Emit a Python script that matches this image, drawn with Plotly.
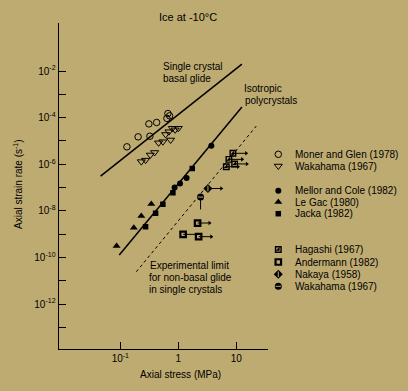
import plotly.graph_objects as go

BG = "#BEAB71"
INK = "black"
FONT = "Arial, 'Liberation Sans', sans-serif"
W, H = 408, 391

# ---------------- data ----------------
# Moner and Glen (1978) - open circles
moner_x = [0.130, 0.203, 0.324, 0.311, 0.423, 0.662, 0.708, 0.636]
moner_y = [5.6e-6, 1.5e-5, 1.6e-5, 5.4e-5, 6.2e-5, 1.5e-4, 1.2e-4, 9.3e-5]
# Wakahama (1967) - open down triangles
wak_x = [0.230, 0.273, 0.329, 0.390, 0.457, 0.542, 0.736, 0.604, 0.689, 0.789, 1.0, 0.88]
wak_y = [1.3e-6, 1.5e-6, 2.5e-6, 3.2e-6, 8.3e-6, 9.3e-6, 1.1e-5, 1.9e-5, 2.5e-5, 3.5e-5, 3.5e-5, 3.0e-5]
# Mellor and Cole (1982) - filled circles
mellor_x = [0.863, 1.07, 1.39, 3.71]
mellor_y = [1.0e-7, 1.5e-7, 2.6e-7, 6.2e-6]
# Le Gac (1980) - filled triangles
legac_x = [0.0863, 0.171, 0.230, 0.342]
legac_y = [3.1e-10, 1.86e-9, 6.0e-9, 1.95e-8]
# Jacka (1982) - filled squares
jacka_x = [0.273, 0.406, 0.542, 0.807, 1.74]
jacka_y = [2.1e-9, 7.8e-9, 1.9e-8, 6.0e-8, 6.6e-7]
# Hagashi (1967) - with arrows to higher stress
hag_x = [8.74, 7.45, 9.35, 6.72]
hag_y = [2.95e-6, 1.62e-6, 1.03e-6, 7.8e-7]
hag_xend = [14.8, 12.6, 15.2, 10.7]
# Andermann (1982)
and_x = [2.15, 1.21, 2.24]
and_y = [3.0e-9, 9.8e-10, 7.8e-10]
and_xend = [3.46, 1.99, 3.71]
and_head = [True, False, True]
# Nakaya (1958)
nak_x = [3.24]
nak_y = [9.1e-8]
nak_xend = [5.51]
# Wakahama (1967) - half filled circle, with downward bar
wak2_x = [2.42]
wak2_y = [3.9e-8]
wak2_yend = [1.15e-8]

# Reference lines (end points)
basal_x = [0.0457, 12.5]
basal_y = [3.12e-7, 2.0e-2]
iso_x = [0.096, 12.5]
iso_y = [1.26e-10, 2.85e-4]
limit_x = [0.189, 22.1]
limit_y = [2.43e-11, 4.37e-5]

x_tickvals = [0.1, 1, 10]
x_ticktext = ["10<sup>-1</sup>", "1", "10"]
y_major_exps = [2, 4, 6, 8, 10, 12]
y_minor_exps = [3, 5, 7, 9, 11, 13]
y_tickvals = [10.0 ** (-k) for k in y_major_exps]
y_ticktext = ["10<sup>-%d</sup>" % k for k in y_major_exps]
y_minorvals = [10.0 ** (-k) for k in y_minor_exps]

legend_rows = [
    ("moner", "Moner and Glen (1978)", 154.3),
    ("wak", "Wakahama (1967)", 166.0),
    ("mellor", "Mellor and Cole (1982)", 190.7),
    ("legac", "Le Gac (1980)", 202.0),
    ("jacka", "Jacka (1982)", 213.7),
    ("hagashi", "Hagashi (1967)", 249.5),
    ("andermann", "Andermann (1982)", 262.0),
    ("nakaya", "Nakaya (1958)", 274.3),
    ("wak2", "Wakahama (1967)", 286.3),
]

# ---------------- styles ----------------
styles = {
    "moner": [dict(symbol="circle-open", size=6.5, color=INK, line=dict(color=INK, width=1))],
    "wak": [dict(symbol="triangle-down-open", size=7, color=INK, line=dict(color=INK, width=1))],
    "mellor": [dict(symbol="circle", size=6, color=INK)],
    "legac": [dict(symbol="triangle-up", size=7, color=INK)],
    "jacka": [dict(symbol="square", size=5.5, color=INK)],
    "hagashi": [dict(symbol="square-open", size=5.5, color=INK, line=dict(color=INK, width=1.4)),
                dict(symbol="triangle-se", size=4.5, color=INK)],
    "andermann": [dict(symbol="square-open", size=5.5, color=INK, line=dict(color=INK, width=2.2))],
    "nakaya": [dict(symbol="diamond", size=7, color=INK),
               dict(symbol="line-ns", size=4, color=BG, line=dict(color=BG, width=1))],
    "wak2": [dict(symbol="circle", size=7, color=INK),
             dict(symbol="line-ew", size=4, color=BG, line=dict(color=BG, width=1))],
}

fig = go.Figure()


def add_marks(x, y, kind, xa="x", ya="y"):
    for m in styles[kind]:
        fig.add_trace(go.Scatter(x=x, y=y, mode="markers", marker=m, xaxis=xa, yaxis=ya,
                                 showlegend=False, hoverinfo="skip"))


def add_line(x, y, dash="solid", width=1.5):
    fig.add_trace(go.Scatter(x=x, y=y, mode="lines", line=dict(color=INK, width=width, dash=dash),
                             showlegend=False, hoverinfo="skip"))


# reference lines
add_line(basal_x, basal_y)
add_line(iso_x, iso_y)
add_line(limit_x, limit_y, dash="3px,3px", width=1)

# bars / arrows
seg_x, seg_y, head_x, head_y = [], [], [], []
for xs, ys, xe in zip(hag_x, hag_y, hag_xend):
    seg_x += [xs, xe, None]; seg_y += [ys, ys, None]
    head_x.append(xe); head_y.append(ys)
for xs, ys, xe, hd in zip(and_x, and_y, and_xend, and_head):
    seg_x += [xs, xe, None]; seg_y += [ys, ys, None]
    if hd:
        head_x.append(xe); head_y.append(ys)
for xs, ys, xe in zip(nak_x, nak_y, nak_xend):
    seg_x += [xs, xe, None]; seg_y += [ys, ys, None]
    head_x.append(xe); head_y.append(ys)
for xs, ys, ye in zip(wak2_x, wak2_y, wak2_yend):
    seg_x += [xs, xs, None]; seg_y += [ys, ye, None]
fig.add_trace(go.Scatter(x=seg_x, y=seg_y, mode="lines", line=dict(color=INK, width=1),
                         showlegend=False, hoverinfo="skip"))
fig.add_trace(go.Scatter(x=head_x, y=head_y, mode="markers",
                         marker=dict(symbol="triangle-right", size=4, color=INK),
                         showlegend=False, hoverinfo="skip"))

# data markers
add_marks(moner_x, moner_y, "moner")
add_marks(wak_x, wak_y, "wak")
add_marks(legac_x, legac_y, "legac")
add_marks(jacka_x, jacka_y, "jacka")
add_marks(mellor_x, mellor_y, "mellor")
add_marks(hag_x, hag_y, "hagashi")
add_marks(and_x, and_y, "andermann")
add_marks(nak_x, nak_y, "nakaya")
add_marks(wak2_x, wak2_y, "wak2")

# legend (pixel overlay axes)
LEG_MX, LEG_TX = 278.3, 292.7
for kind, label, yy in legend_rows:
    add_marks([LEG_MX], [yy], kind, xa="x2", ya="y2")

annots = []
txt = dict(size=10, color=INK, family=FONT)
for kind, label, yy in legend_rows:
    annots.append(dict(x=LEG_TX, y=yy, xref="x2", yref="y2", text=label, showarrow=False,
                       xanchor="left", yanchor="middle", font=txt))

labels = [
    ("Single crystal", 161, 66.7), ("basal glide", 161, 78.3),
    ("Isotropic", 242.3, 88.3), ("polycrystals", 243.3, 100),
    ("Experimental limit", 147.7, 265.7), ("for non-basal glide", 146.7, 277.3),
    ("in single crystals", 146.7, 289.3),
]
for t, xx, yy in labels:
    annots.append(dict(x=xx, y=yy, xref="x2", yref="y2", text=t, showarrow=False,
                       xanchor="left", yanchor="middle", font=txt))

annots.append(dict(x=188, y=17, xref="x2", yref="y2", text="Ice at -10°C", showarrow=False,
                   xanchor="center", yanchor="middle", font=dict(size=11, color=INK, family=FONT)))
annots.append(dict(x=180, y=374, xref="x2", yref="y2", text="Axial stress (MPa)", showarrow=False,
                   xanchor="center", yanchor="middle", font=txt))
annots.append(dict(x=18, y=184, xref="x2", yref="y2", text="Axial strain rate (s<sup>-1</sup>)",
                   showarrow=False, textangle=-90, xanchor="center", yanchor="middle", font=txt))

X0, X1 = 58.7, 267.7
Y0, Y1 = 23.3, 349.0

axis_common = dict(showgrid=False, zeroline=False, showline=True, linecolor=INK, linewidth=1.3,
                   ticks="inside", ticklen=7, tickwidth=1.3, tickcolor=INK,
                   tickfont=dict(size=10, color=INK, family=FONT), mirror=False)

fig.update_layout(
    width=W, height=H,
    margin=dict(l=0, r=0, t=0, b=0),
    paper_bgcolor=BG, plot_bgcolor="rgba(0,0,0,0)",
    showlegend=False,
    xaxis=dict(type="log", range=[-2.062, 1.541], domain=[X0 / W, X1 / W], anchor="y",
               tickmode="array", tickvals=x_tickvals, ticktext=x_ticktext, **axis_common),
    yaxis=dict(type="log", range=[-13.93, 0.05], domain=[1 - Y1 / H, 1 - Y0 / H], anchor="x",
               tickmode="array", tickvals=y_tickvals, ticktext=y_ticktext,
               minor=dict(tickmode="array", tickvals=y_minorvals, ticks="inside", ticklen=7,
                          tickwidth=1.3, tickcolor=INK, showgrid=False),
               **axis_common),
    xaxis2=dict(domain=[0, 1], range=[0, W], visible=False, anchor="y2", fixedrange=True),
    yaxis2=dict(domain=[0, 1], range=[H, 0], visible=False, anchor="x2", fixedrange=True),
    annotations=annots,
)

fig.write_html("out.html", post_script="document.body.style.margin='0px';",
               config={"displayModeBar": False})
